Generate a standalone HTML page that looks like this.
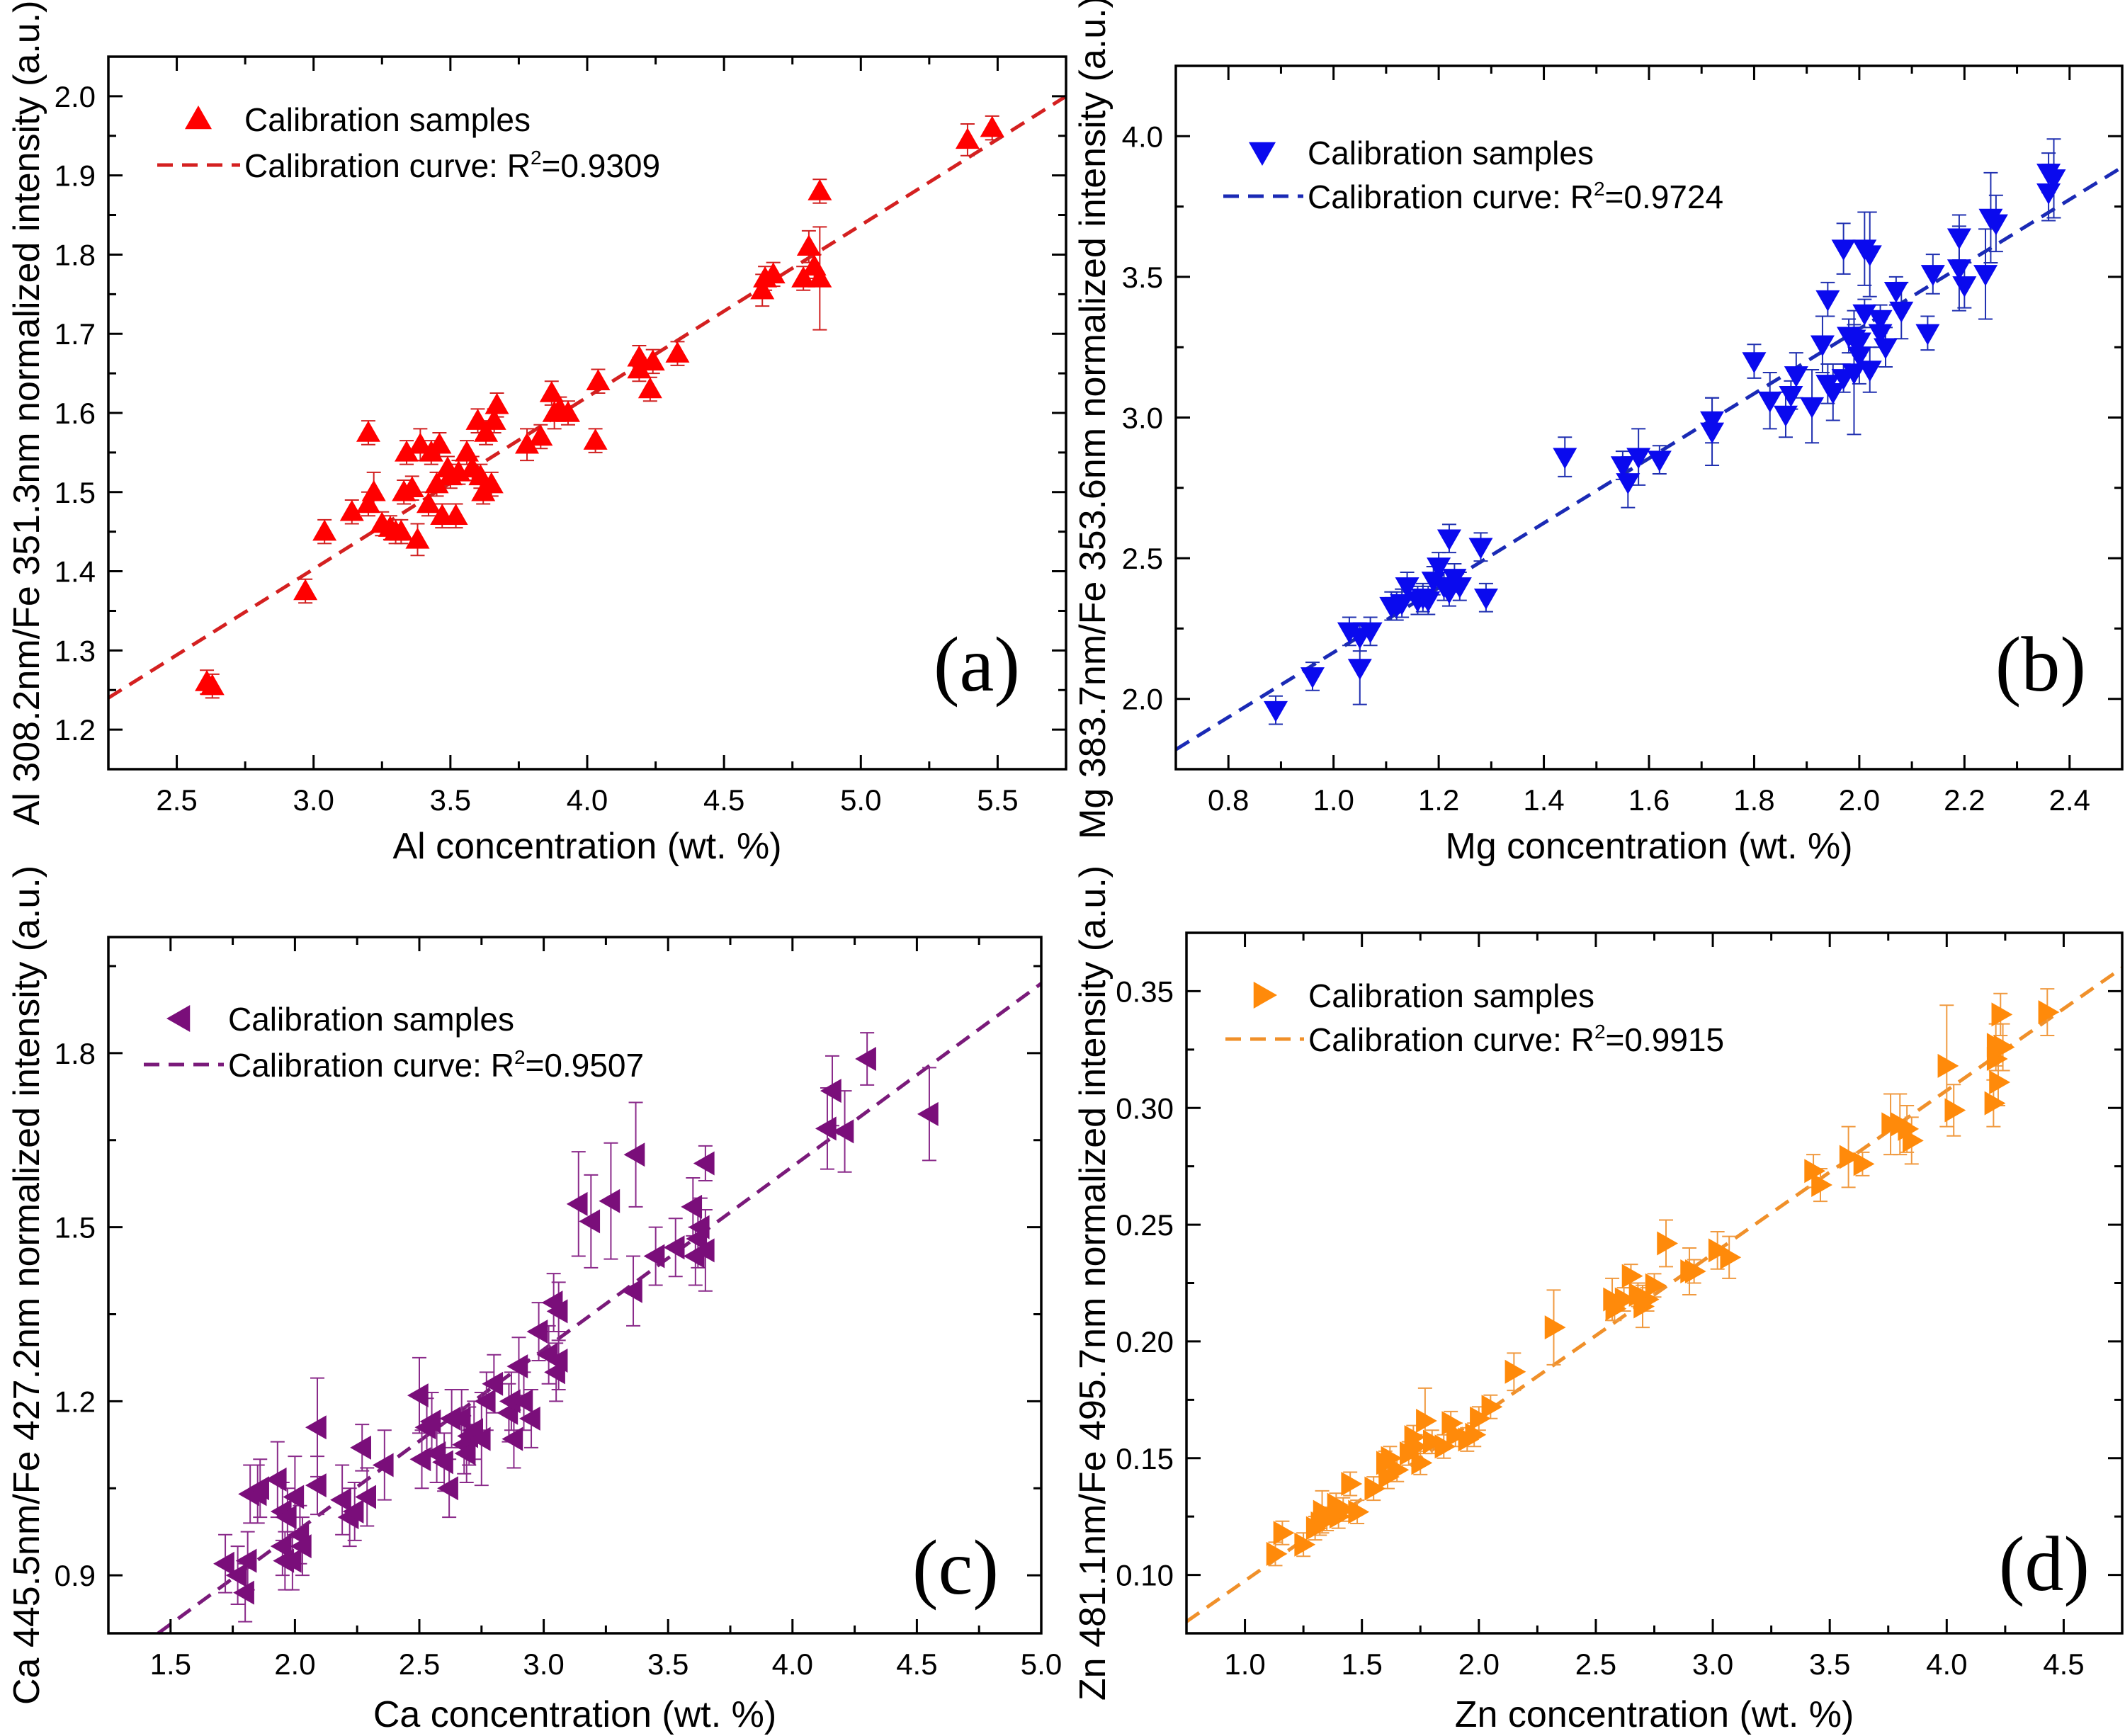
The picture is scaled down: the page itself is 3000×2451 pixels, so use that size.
<!DOCTYPE html>
<html><head><meta charset="utf-8"><style>
html,body{margin:0;padding:0;background:#fff;}
svg{display:block;font-family:"Liberation Sans",Arial,sans-serif;}
</style></head><body>
<svg id="s" xmlns="http://www.w3.org/2000/svg" width="3000" height="2451" viewBox="0 0 3000 2451"></svg>
<script>
const NS="http://www.w3.org/2000/svg";const S=document.getElementById('s');
function el(t,a,txt){const e=document.createElementNS(NS,t);for(const k in a)e.setAttribute(k,a[k]);if(txt!==undefined)e.textContent=txt;S.appendChild(e);return e;}
function panel(P){
 const X=v=>P.L+(v-P.x0)/(P.x1-P.x0)*(P.R-P.L);
 const Y=v=>P.B-(v-P.y0)/(P.y1-P.y0)*(P.B-P.T);
 el('line',{x1:X(P.line[0]),y1:Y(P.line[1]),x2:X(P.line[2]),y2:Y(P.line[3]),stroke:P.lc,'stroke-width':5,'stroke-dasharray':'22,13'});
 const m=17;
 P.d.forEach(p=>{const x=X(p[0]),y=Y(p[1]);const e=p[2]||P.e;
  const yt=Y(p[1]+e),yb=Y(p[1]-e);
  el('line',{x1:x,y1:yt,x2:x,y2:yb,stroke:P.ec,'stroke-width':2});
  el('line',{x1:x-10,y1:yt,x2:x+10,y2:yt,stroke:P.ec,'stroke-width':2});
  el('line',{x1:x-10,y1:yb,x2:x+10,y2:yb,stroke:P.ec,'stroke-width':2});
 });
 P.d.forEach(p=>{marker(P.mk,X(p[0]),Y(p[1]),m,P.c);});
 const g=[];const eps=1e-6;
 for(let i=Math.ceil(P.x0/P.xmin-eps);i*P.xmin<=P.x1+eps;i++){const v=i*P.xmin;const x=X(v);const maj=Math.abs(Math.round(v/P.xmaj)*P.xmaj-v)<eps;const l=maj?20:11;
  g.push(`M${x},${P.B}v${-l}M${x},${P.T}v${l}`);
  if(maj&&((v>P.x0+eps&&v<P.x1-eps)||P.xlabEnds))el('text',{x:x,y:P.B+58,'font-size':42,'text-anchor':'middle'},v.toFixed(1));}
 for(let i=Math.ceil(P.y0/P.ymin-eps);i*P.ymin<=P.y1+eps;i++){const v=i*P.ymin;const y=Y(v);const maj=Math.abs(Math.round(v/P.ymaj)*P.ymaj-v)<eps;const l=maj?20:11;
  g.push(`M${P.L},${y}h${l}M${P.R},${y}h${-l}`);
  if(maj&&v>P.y0+eps&&v<P.y1-eps)el('text',{x:P.L-18,y:y+15,'font-size':42,'text-anchor':'end'},v.toFixed(P.yd));}
 el('path',{d:g.join(''),stroke:'#000','stroke-width':3,fill:'none'});
 el('rect',{x:P.L,y:P.T,width:P.R-P.L,height:P.B-P.T,fill:'none',stroke:'#000','stroke-width':3.5});
 el('text',{x:(P.L+P.R)/2,y:P.xt,'font-size':52,'text-anchor':'middle'},P.xl);
 el('text',{x:P.yt,y:(P.T+P.B)/2,'font-size':52,'text-anchor':'middle',transform:`rotate(-90 ${P.yt} ${(P.T+P.B)/2})`},P.yl);
 marker(P.mk,P.lg[0],P.lg[1],19,P.c);
 el('text',{x:P.lg[2],y:P.lg[1]+17,'font-size':46},'Calibration samples');
 el('line',{x1:P.lg[3],y1:P.lg[4],x2:P.lg[2]-6,y2:P.lg[4],stroke:P.lc,'stroke-width':5,'stroke-dasharray':'22,13'});
 const t=el('text',{x:P.lg[2],y:P.lg[4]+17,'font-size':46},'Calibration curve: R');
 const ts=document.createElementNS(NS,'tspan');ts.setAttribute('dy',-18);ts.setAttribute('font-size',28);ts.textContent='2';t.appendChild(ts);
 const t2=document.createElementNS(NS,'tspan');t2.setAttribute('dy',18);t2.textContent='='+P.r2;t.appendChild(t2);
 el('text',{x:P.let[0],y:P.let[1],'font-size':110,'text-anchor':'end','font-family':'"Liberation Serif",serif'},P.letter);
}
function marker(k,x,y,m,c){let pts;
 if(k==='up')pts=[[x,y-m],[x-m,y+m*0.75],[x+m,y+m*0.75]];
 else if(k==='down')pts=[[x,y+m],[x-m,y-m*0.75],[x+m,y-m*0.75]];
 else if(k==='left')pts=[[x-m,y],[x+m*0.75,y-m],[x+m*0.75,y+m]];
 else pts=[[x+m,y],[x-m*0.75,y-m],[x-m*0.75,y+m]];
 el('polygon',{points:pts.map(p=>p.join(',')).join(' '),fill:c});}

panel({L:153,R:1505,T:80,B:1086,x0:2.25,x1:5.75,y0:1.15,y1:2.05,xmaj:0.5,xmin:0.25,ymaj:0.1,ymin:0.05,yd:1,
 line:[2.25,1.24,5.75,2.0],lc:'#d42020',c:'#ff0000',ec:'#d02020',mk:'up',e:0.015,
 xl:'Al concentration (wt. %)',yl:'Al 308.2nm/Fe 351.3nm normalized intensity (a.u.)',xt:1212,yt:55,
 lg:[280,168,345,222,233],r2:'0.9309',let:[1440,975],letter:'(a)',
 d:[[2.61,1.26],[2.63,1.255],[2.97,1.375],[3.04,1.45],[3.14,1.475],[3.2,1.575],[3.2,1.485],[3.22,1.5,0.025],[3.25,1.46],[3.28,1.455],[3.3,1.45],[3.32,1.45],[3.33,1.5],[3.34,1.55],[3.36,1.505],[3.38,1.44,0.02],[3.39,1.56,0.02],[3.42,1.485],[3.43,1.55],[3.45,1.51],[3.46,1.56],[3.47,1.47],[3.49,1.53],[3.5,1.52],[3.52,1.47],[3.53,1.525],[3.56,1.55],[3.58,1.53],[3.6,1.59],[3.61,1.52],[3.62,1.5],[3.63,1.575],[3.65,1.51],[3.66,1.59],[3.67,1.61],[3.78,1.56,0.02],[3.83,1.57],[3.87,1.625],[3.88,1.6,0.02],[3.9,1.605],[3.93,1.6],[4.03,1.565],[4.04,1.64],[4.19,1.67],[4.19,1.655],[4.23,1.63],[4.24,1.665],[4.33,1.675],[4.64,1.755,0.02],[4.65,1.77],[4.68,1.775],[4.79,1.77],[4.81,1.81,0.02],[4.83,1.785],[4.85,1.77,0.065],[4.85,1.88],[5.39,1.945,0.02],[5.48,1.96]]});

panel({L:1660,R:2996,T:93,B:1086,x0:0.7,x1:2.5,y0:1.75,y1:4.25,xmaj:0.2,xmin:0.1,ymaj:0.5,ymin:0.25,yd:1,
 line:[0.7,1.82,2.5,3.89],lc:'#1a2ab5',c:'#0a0aee',ec:'#2030b0',mk:'down',e:0.05,
 xl:'Mg concentration (wt. %)',yl:'Mg 383.7nm/Fe 353.6nm normalized intensity (a.u.)',xt:1212,yt:1560,
 lg:[1782,215,1846,1727,277],r2:'0.9724',let:[2945,975],letter:'(b)',
 d:[[0.89,1.96],[0.96,2.08],[1.03,2.24],[1.05,2.22],[1.05,2.11,0.13],[1.07,2.24],[1.11,2.33],[1.12,2.33],[1.13,2.34],[1.14,2.4],[1.16,2.35],[1.17,2.36],[1.18,2.35],[1.19,2.42],[1.2,2.47],[1.21,2.4],[1.22,2.57],[1.22,2.38],[1.23,2.43],[1.24,2.4],[1.28,2.54],[1.29,2.36],[1.44,2.86,0.07],[1.55,2.83],[1.56,2.77,0.09],[1.58,2.86,0.1],[1.62,2.85],[1.72,2.99,0.08],[1.72,2.95,0.12],[1.8,3.2,0.06],[1.83,3.06,0.1],[1.86,3.01,0.08],[1.87,3.08],[1.88,3.15,0.08],[1.91,3.04,0.13],[1.93,3.26,0.1],[1.94,3.42,0.06],[1.94,3.12,0.07],[1.95,3.09,0.1],[1.97,3.6,0.09],[1.97,3.14],[1.98,3.29,0.06],[1.99,3.28,0.05],[1.99,3.16,0.22],[2.0,3.22,0.1],[2.0,3.27],[2.01,3.6,0.13],[2.01,3.37,0.05],[2.02,3.58,0.15],[2.02,3.17,0.08],[2.04,3.35],[2.04,3.3],[2.05,3.25,0.07],[2.07,3.45,0.05],[2.08,3.38,0.1],[2.13,3.3,0.06],[2.14,3.51,0.07],[2.19,3.64,0.08],[2.19,3.53,0.15],[2.2,3.47,0.08],[2.24,3.51,0.16],[2.25,3.71,0.16],[2.26,3.69,0.1],[2.36,3.8,0.1],[2.36,3.87,0.07],[2.37,3.85,0.14]]});

panel({L:153,R:1470,T:1323,B:2306,x0:1.25,x1:5.0,y0:0.8,y1:2.0,xmaj:0.5,xmin:0.25,ymaj:0.3,ymin:0.15,yd:1,xlabEnds:true,
 line:[1.45,0.8,5.0,1.92],lc:'#7a1a7a',c:'#7a0e7a',ec:'#8a2a8a',mk:'left',e:0.05,
 xl:'Ca concentration (wt. %)',yl:'Ca 445.5nm/Fe 427.2nm normalized intensity (a.u.)',xt:2438,yt:55,
 lg:[254,1438,322,203,1503],r2:'0.9507',let:[1410,2250],letter:'(c)',
 d:[[1.72,0.92],[1.77,0.9],[1.8,0.87],[1.81,0.925],[1.82,1.04],[1.85,1.04],[1.86,1.05],[1.93,1.065,0.065],[1.95,1.01],[1.95,0.95],[1.96,0.925],[1.97,1.0],[1.99,0.925],[2.0,1.035,0.07],[2.02,0.97],[2.03,0.95],[2.09,1.155,0.085],[2.09,1.055],[2.19,1.03,0.06],[2.22,1.0],[2.24,1.01],[2.27,1.12,0.04],[2.29,1.035],[2.36,1.09,0.06],[2.5,1.21,0.065],[2.51,1.1],[2.53,1.155],[2.55,1.165],[2.57,1.11],[2.6,1.095],[2.62,1.05],[2.63,1.17],[2.67,1.17],[2.68,1.125],[2.69,1.11],[2.7,1.14],[2.72,1.15],[2.75,1.135,0.08],[2.77,1.2],[2.8,1.23],[2.86,1.18],[2.87,1.2],[2.88,1.135],[2.9,1.26],[2.92,1.2],[2.95,1.17],[2.98,1.32],[3.02,1.28],[3.04,1.37],[3.05,1.25],[3.06,1.27],[3.06,1.355],[3.14,1.54,0.09],[3.19,1.51,0.08],[3.27,1.545,0.1],[3.36,1.39,0.06],[3.37,1.625,0.09],[3.45,1.45],[3.53,1.465],[3.6,1.535],[3.61,1.45],[3.62,1.48],[3.63,1.5],[3.65,1.46,0.07],[3.65,1.61,0.03],[4.14,1.67,0.07],[4.16,1.735,0.06],[4.21,1.665,0.07],[4.3,1.79,0.045],[4.55,1.695,0.08]]});

panel({L:1675,R:2996,T:1317,B:2306,x0:0.75,x1:4.75,y0:0.075,y1:0.375,xmaj:0.5,xmin:0.25,ymaj:0.05,ymin:0.025,yd:2,
 line:[0.75,0.08,4.75,0.36],lc:'#f0902a',c:'#ff8a0a',ec:'#f09a40',mk:'right',e:0.005,
 xl:'Zn concentration (wt. %)',yl:'Zn 481.1nm/Fe 495.7nm normalized intensity (a.u.)',xt:2438,yt:1560,
 lg:[1784,1405,1847,1730,1467],r2:'0.9915',let:[2950,2245],letter:'(d)',
 d:[[1.13,0.109],[1.16,0.118],[1.25,0.113],[1.3,0.12],[1.32,0.122],[1.33,0.127,0.009],[1.35,0.124],[1.39,0.13],[1.4,0.125],[1.42,0.128],[1.45,0.139],[1.48,0.127],[1.55,0.137],[1.6,0.148],[1.61,0.142],[1.62,0.15],[1.65,0.145],[1.7,0.152],[1.72,0.159],[1.73,0.155],[1.75,0.148],[1.77,0.166,0.014],[1.8,0.157],[1.85,0.155],[1.88,0.165],[1.9,0.16],[1.95,0.158],[1.98,0.16],[2.0,0.167],[2.05,0.172],[2.15,0.187,0.008],[2.32,0.206,0.016],[2.57,0.218,0.009],[2.58,0.214],[2.62,0.218],[2.65,0.228],[2.68,0.22],[2.7,0.215,0.009],[2.72,0.218],[2.75,0.224],[2.8,0.242,0.01],[2.9,0.23,0.01],[2.92,0.23],[3.02,0.239,0.008],[3.07,0.236,0.009],[3.43,0.273,0.007],[3.46,0.267,0.007],[3.58,0.279,0.013],[3.64,0.276],[3.76,0.293,0.013],[3.8,0.293,0.013],[3.83,0.291,0.01],[3.85,0.286,0.01],[4.0,0.318,0.026],[4.03,0.299,0.011],[4.2,0.302,0.01],[4.21,0.321],[4.21,0.327,0.009],[4.22,0.311,0.01],[4.23,0.34,0.009],[4.24,0.326,0.01],[4.43,0.341,0.01]]});
</script>
</body></html>
